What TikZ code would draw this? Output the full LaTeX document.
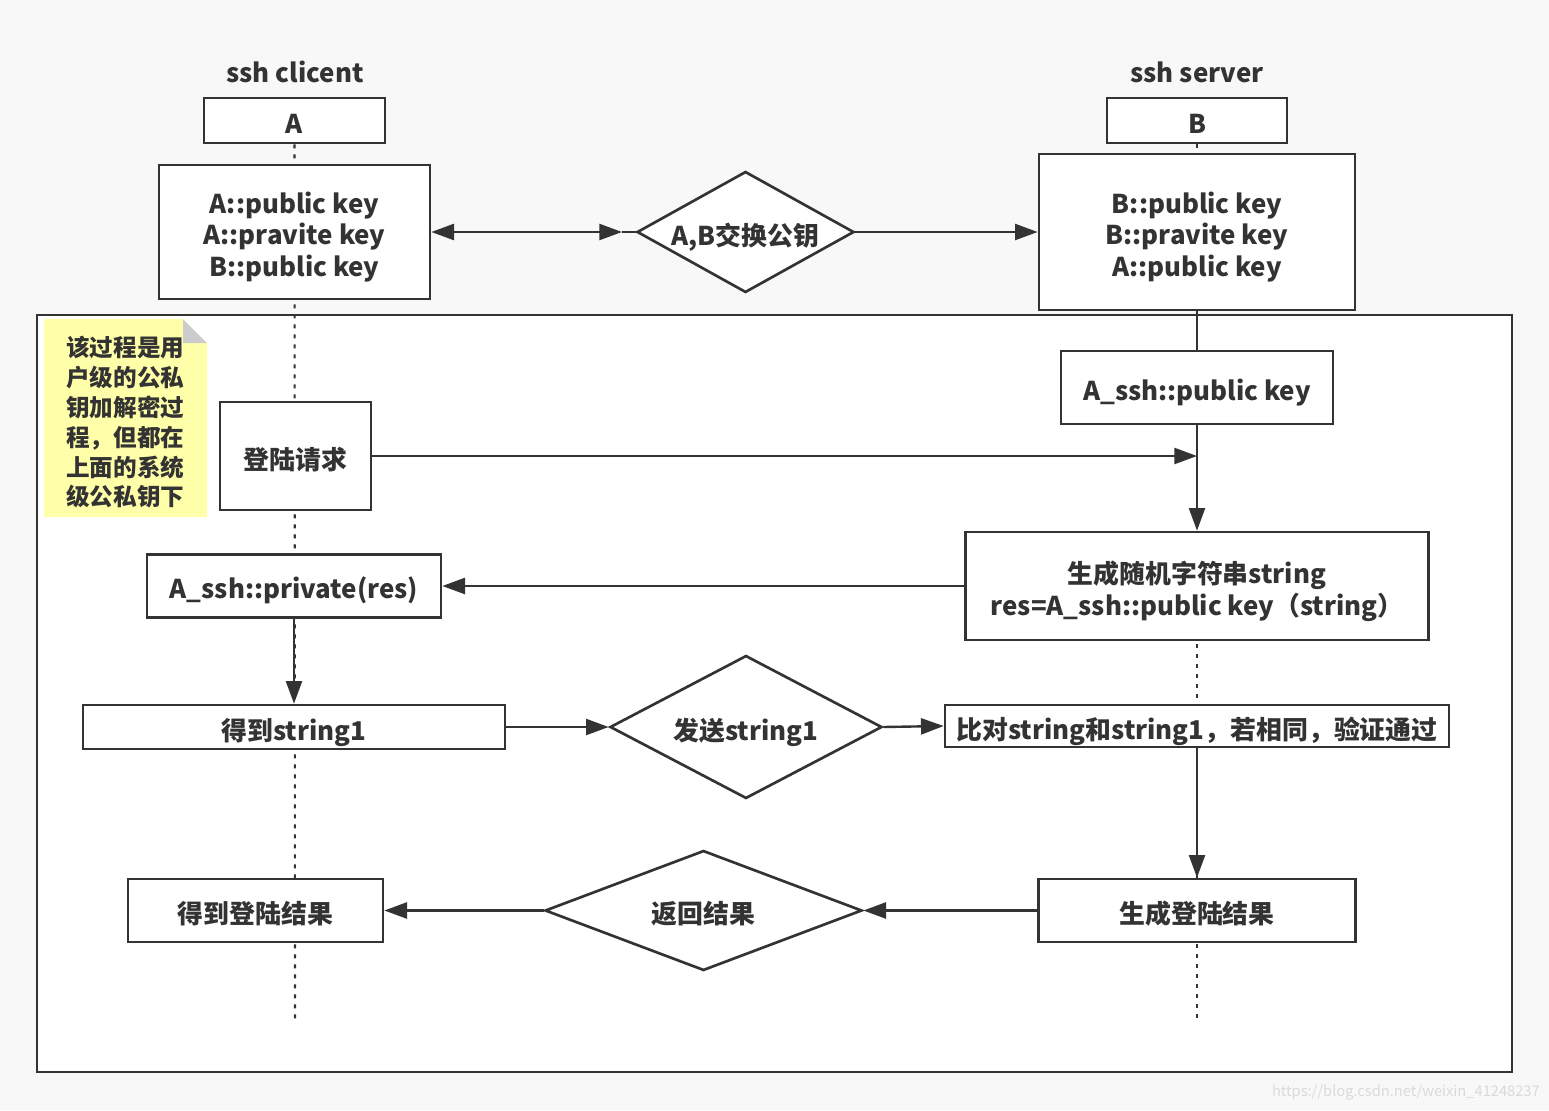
\documentclass[tikz,border=0pt]{standalone}
\usepackage{fontspec}
\setmainfont{Noto Sans CJK SC}
\usetikzlibrary{shapes.geometric,arrows.meta}
\definecolor{ink}{HTML}{333333}
\definecolor{bgc}{HTML}{F8F8F8}
\definecolor{notey}{HTML}{FFFFAA}
\definecolor{flap}{HTML}{CCCCCC}
\definecolor{wm}{HTML}{DADADA}
\newcommand{\Tx}[1]{\raisebox{-5pt}[\height][\depth]{\begin{tabular}{@{}c@{}}#1\end{tabular}}}
\begin{document}
\begin{tikzpicture}[x=0.75pt,y=-0.75pt,
  txt/.style={font=\fontsize{19.4}{23.6}\selectfont\bfseries, text=ink, align=center, inner sep=0pt},
  bx/.style 2 args={txt, draw=ink, line width=2pt, fill=white, rectangle,
     minimum width=#1*0.75pt, minimum height=#2*0.75pt},
  dm/.style 2 args={txt, draw=ink, line width=2pt, fill=white, diamond,
     minimum width=#1*0.75pt, minimum height=#2*0.75pt},
  arr/.style={draw=ink, line width=1.8pt, -{Triangle[length=17pt,width=12pt]}},
  darr/.style={draw=ink, line width=1.8pt, {Triangle[length=17pt,width=12pt]}-{Triangle[length=17pt,width=12pt]}},
  plain/.style={draw=ink, line width=1.8pt},
  lifeline/.style={draw=ink, line width=1.6pt, dash pattern=on 3pt off 4.5pt},
]
\useasboundingbox[fill=bgc] (0,0) rectangle (1549,1110);

% big frame
\draw[ink, line width=2.2pt, fill=white] (37,315) rectangle (1512,1072);

% note
\fill[notey] (44,319) -- (183,319) -- (207,343) -- (207,517) -- (44,517) -- cycle;
\fill[flap] (183,319) -- (183,343) -- (207,343) -- cycle;
\node (note) [font=\fontsize{17.7}{22.4}\selectfont\bfseries, text=ink, align=left, inner sep=0pt, anchor=north west]
  at (66,336) {该过程是用\\户级的公私\\钥加解密过\\程，但都在\\上面的系统\\级公私钥下};

% header labels
\node (lblA) [txt] at (295,72) {ssh clicent};
\node (lblB) [txt] at (1197,72) {ssh server};

% lifeline end coordinates
\coordinate (aend) at (295,1020);
\coordinate (bend) at (1197,1020);
\coordinate (breq) at (1197,456);

% header boxes
\node (boxA) [bx={181}{45}] at (294.5,120.5) {\Tx{A}};
\node (boxB) [bx={180}{45}] at (1197,120.5) {\Tx{B}};

% lifelines (behind)
\draw[lifeline] (boxA.south) -- (aend);
\draw[lifeline] (boxB.south) -- (bend);

% top row
\node (akeys) [bx={271}{134}] at (294.5,232) {\Tx{A::public key\\A::pravite key\\B::public key}};
\node (bkeys) [bx={316}{156}] at (1197,232) {\Tx{B::public key\\B::pravite key\\A::public key}};
\node (d1) [dm={217}{121}] at (745.5,232) {\makebox[0pt]{\Tx{A,B交换公钥}}};
\coordinate (d1in) at (622,232);

% inside frame
\node (sshpub) [bx={272}{73}] at (1197,387.5) {\Tx{A\_ssh::public key}};
\node (req) [bx={151}{108}] at (295.5,456) {\Tx{登陆请求}};
\node (gen) [bx={463}{108}] at (1197,586) {\Tx{生成随机字符串string\\res=A\_ssh::public key（string）}};
\node (priv) [bx={294}{63}] at (294,586) {\Tx{A\_ssh::private(res)}};
\node (get1) [bx={422}{44}] at (294,727) {\Tx{得到string1}};
\node (d2) [dm={272}{143}] at (746,727) {\makebox[0pt]{\Tx{发送string1}}};
\node (cmp) [bx={504}{42}] at (1197,726) {\Tx{比对string和string1，若相同，验证通过}};
\node (res) [bx={317}{63}] at (1197,910.5) {\Tx{生成登陆结果}};
\node (d3) [dm={317}{120}] at (703.5,910.5) {\makebox[0pt]{\Tx{返回结果}}};
\node (getres) [bx={255}{63}] at (255.5,910.5) {\Tx{得到登陆结果}};

% connectors
\draw[darr] (akeys.east) -- (d1in);
\draw[plain] (d1in) -- (d1.west);
\draw[arr] (d1.east) -- (bkeys.west);
\draw[plain] (bkeys.south) -- (sshpub.north);
\draw[arr] (req.east) -- (breq);
\draw[arr] (sshpub.south) -- (gen.north);
\draw[arr] (gen.west) -- (priv.east);
\draw[arr] (priv.south) -- (get1.north);
\draw[arr] (get1.east) -- (d2.west);
\draw[arr] (d2.east) -- (cmp.west);
\draw[arr] (cmp.south) -- (res.north);
\draw[arr] (res.west) -- (d3.east);
\draw[arr] (d3.west) -- (getres.east);

% watermark
\node (wmk) [font=\fontsize{11}{13}\selectfont, text=wm, anchor=east, inner sep=0pt] at (1540,1092) {https://blog.csdn.net/weixin\_41248237};
\end{tikzpicture}
\end{document}
